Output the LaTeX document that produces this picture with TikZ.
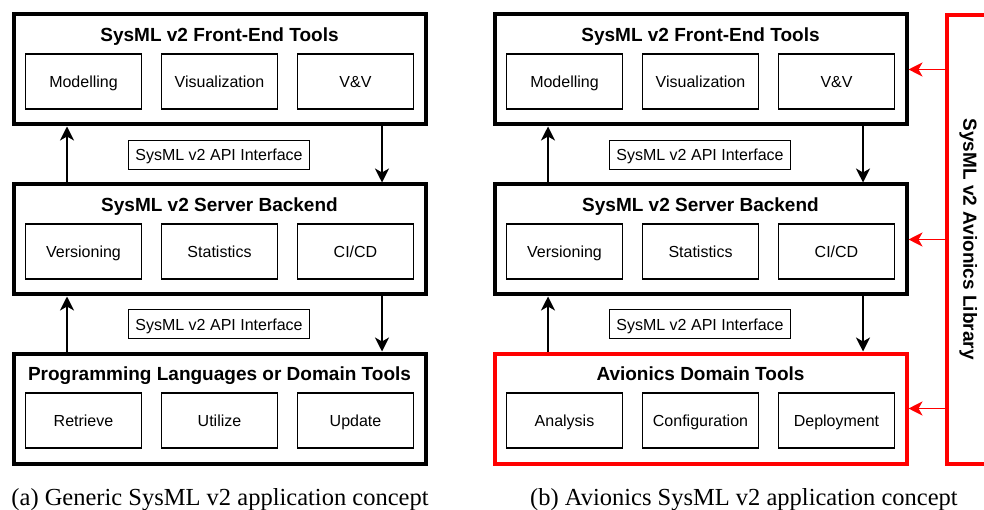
\documentclass[tikz,border=0pt]{standalone}
\usepackage{fontspec}
\setmainfont{Liberation Serif}
\setsansfont{Liberation Sans}
\usetikzlibrary{arrows.meta}

\definecolor{libred}{RGB}{255,0,0}

\tikzset{
  layer/.style={draw, line width=4pt, minimum width=412pt, minimum height=110pt, inner sep=0pt},
  redlayer/.style={layer, draw=libred},
  part/.style={draw, line width=1.2pt, minimum width=116pt, minimum height=55pt, inner sep=0pt,
    font=\sffamily\fontsize{16}{18}\selectfont, text height=11.5pt, text depth=0pt},
  api/.style={draw, line width=1.2pt, minimum width=181pt, minimum height=29pt, inner sep=0pt,
    font=\sffamily\fontsize{16}{18}\selectfont, text height=11.5pt, text depth=0pt},
  layertitle/.style={anchor=base, inner sep=0pt, font=\sffamily\bfseries\fontsize{19}{22}\selectfont},
  flow/.style={line width=1.5pt, -{Stealth[length=14pt,width=14pt,inset=4pt]}},
  feed/.style={draw=libred, line width=1.4pt, -{Stealth[length=14pt,width=14pt,inset=4pt]}},
  caption/.style={anchor=base, inner sep=0pt, font=\rmfamily\fontsize{24.5}{28}\selectfont}
}

\begin{document}
\begin{tikzpicture}[x=1pt,y=-1pt]
\useasboundingbox (0,0) rectangle (984,510);

% ---------- (a) generic concept ----------
\node[layer] (a1) at (219.5,69.5) {};
\node[layertitle] (a1t) at (219.5,41.7) {SysML v2 Front-End Tools};
\node[part] (a1p1) at (83.5,81.5) {Modelling};
\node[part] (a1p2) at (219.5,81.5) {Visualization};
\node[part] (a1p3) at (355.5,81.5) {V\&V};

\node[layer] (a2) at (219.5,239.5) {};
\node[layertitle] (a2t) at (219.5,211.7) {SysML v2 Server Backend};
\node[part] (a2p1) at (83.5,251.5) {Versioning};
\node[part] (a2p2) at (219.5,251.5) {Statistics};
\node[part] (a2p3) at (355.5,251.5) {CI/CD};

\node[layer] (a3) at (219.5,408.5) {};
\node[layertitle] (a3t) at (219.5,380.7) {Programming Languages or Domain Tools};
\node[part] (a3p1) at (83.5,420.5) {Retrieve};
\node[part] (a3p2) at (219.5,420.5) {Utilize};
\node[part] (a3p3) at (355.5,420.5) {Update};

\node[api] (a12) at (219,154.7) {SysML v2 API Interface};
\node[api] (a23) at (219,324.3) {SysML v2 API Interface};

\draw[flow] ([xshift=55.5pt]a2.north west) -- ([xshift=55.5pt]a1.south west);
\draw[flow] ([xshift=-45.5pt]a1.south east) -- ([xshift=-45.5pt]a2.north east);
\draw[flow] ([xshift=55.5pt]a3.north west) -- ([xshift=55.5pt]a2.south west);
\draw[flow] ([xshift=-45.5pt]a2.south east) -- ([xshift=-45.5pt]a3.north east);

\node[caption] (acap) at (220,505) {(a) Generic SysML v2 application concept};

% ---------- (b) avionics concept ----------
\node[layer] (b1) at (700.5,69.5) {};
\node[layertitle] (b1t) at (700.5,41.7) {SysML v2 Front-End Tools};
\node[part] (b1p1) at (564.5,81.5) {Modelling};
\node[part] (b1p2) at (700.5,81.5) {Visualization};
\node[part] (b1p3) at (836.5,81.5) {V\&V};

\node[layer] (b2) at (700.5,239.5) {};
\node[layertitle] (b2t) at (700.5,211.7) {SysML v2 Server Backend};
\node[part] (b2p1) at (564.5,251.5) {Versioning};
\node[part] (b2p2) at (700.5,251.5) {Statistics};
\node[part] (b2p3) at (836.5,251.5) {CI/CD};

\node[redlayer] (b3) at (700.5,408.5) {};
\node[layertitle] (b3t) at (700.5,380.7) {Avionics Domain Tools};
\node[part] (b3p1) at (564.5,420.5) {Analysis};
\node[part] (b3p2) at (700.5,420.5) {Configuration};
\node[part] (b3p3) at (836.5,420.5) {Deployment};

\node[api] (b12) at (700,154.7) {SysML v2 API Interface};
\node[api] (b23) at (700,324.3) {SysML v2 API Interface};

\draw[flow] ([xshift=55.5pt]b2.north west) -- ([xshift=55.5pt]b1.south west);
\draw[flow] ([xshift=-45.5pt]b1.south east) -- ([xshift=-45.5pt]b2.north east);
\draw[flow] ([xshift=55.5pt]b3.north west) -- ([xshift=55.5pt]b2.south west);
\draw[flow] ([xshift=-45.5pt]b2.south east) -- ([xshift=-45.5pt]b3.north east);

% avionics library feeding every layer
\node[draw=libred, line width=4pt, minimum width=60pt, minimum height=448.5pt, inner sep=0pt] (lib) at (976.5,239.25) {};
\node[rotate=-90, inner sep=0pt, text height=13.5pt, text depth=0pt,
      font=\sffamily\bfseries\fontsize{19}{22}\selectfont] (libt) at (970,239.25) {SysML v2 Avionics Library};
\draw[feed] (lib.west |- b1.east) -- (b1.east);
\draw[feed] (lib.west |- b2.east) -- (b2.east);
\draw[feed] (lib.west |- b3.east) -- (b3.east);

\node[caption] (bcap) at (744,505) {(b) Avionics SysML v2 application concept};
\end{tikzpicture}
\end{document}
